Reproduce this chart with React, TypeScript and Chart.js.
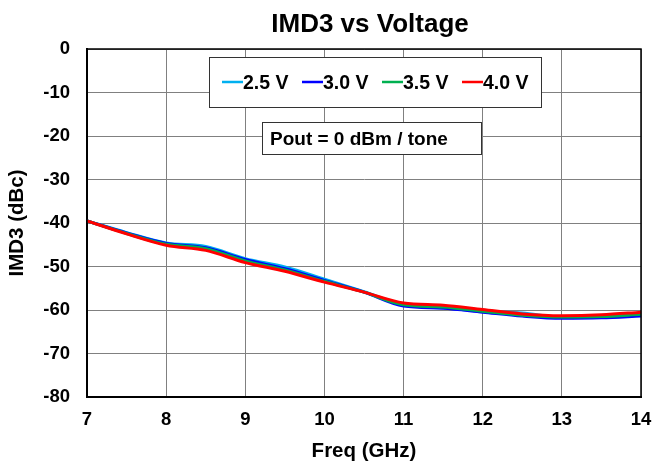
import React, { useEffect, useRef } from "react";
import { Chart, registerables } from "chart.js";
Chart.register(...registerables);

const freqs = [7, 7.5, 8, 8.5, 9, 9.5, 10, 10.5, 11, 11.5, 12, 12.5, 13, 13.5, 14];
const v25 = [-39.5, -42.2, -44.6, -45.4, -48.2, -50.1, -52.9, -55.8, -58.8, -59.5, -60.3, -60.7, -61.7, -61.7, -61.2];
const v30 = [-39.5, -42.3, -44.7, -45.7, -48.4, -50.5, -53.2, -55.9, -59.1, -59.6, -60.5, -61.4, -61.9, -61.8, -61.4];
const v35 = [-39.5, -42.4, -44.9, -45.9, -48.7, -50.8, -53.4, -55.9, -58.8, -59.3, -60.3, -61.2, -61.6, -61.5, -61.0];
const v40 = [-39.5, -42.5, -45.1, -46.3, -49.1, -51.1, -53.6, -55.9, -58.4, -58.9, -59.9, -60.9, -61.3, -61.1, -60.5];
const seriesNames = ["2.5 V", "3.0 V", "3.5 V", "4.0 V"];
const seriesColors = ["#00B0F0", "#0000FF", "#00B050", "#FF0000"];
const titleText = "IMD3 vs Voltage";
const annotationText = "Pout = 0 dBm / tone";

const FONT = "'Liberation Sans', Arial, sans-serif";

const boxPlugin = {
  id: "boxes",
  afterDraw(chart: any) {
    const ctx = chart.ctx;
    const a = chart.chartArea;
    ctx.save();
    // frame
    ctx.strokeStyle = "#000";
    ctx.lineWidth = 1.5;
    ctx.strokeRect(a.left, a.top, a.right - a.left, a.bottom - a.top);
    // title
    ctx.fillStyle = "#000";
    ctx.font = `bold 26px ${FONT}`;
    ctx.textAlign = "center";
    ctx.textBaseline = "alphabetic";
    ctx.fillText(titleText, 370, 32);
    // legend box
    const lx = 209, ly = 57, lw = 332, lh = 50;
    ctx.fillStyle = "#fff";
    ctx.fillRect(lx, ly, lw, lh);
    ctx.lineWidth = 1;
    ctx.strokeStyle = "#333";
    ctx.strokeRect(lx + 0.5, ly + 0.5, lw, lh);
    ctx.font = `bold 19.5px ${FONT}`;
    ctx.textAlign = "left";
    ctx.textBaseline = "alphabetic";
    seriesNames.forEach((n, i) => {
      const x0 = lx + 13 + i * 80;
      ctx.strokeStyle = seriesColors[i];
      ctx.lineWidth = 2.5;
      ctx.beginPath();
      ctx.moveTo(x0, 82);
      ctx.lineTo(x0 + 21, 82);
      ctx.stroke();
      ctx.fillStyle = "#000";
      ctx.fillText(n, x0 + 21, 88.5);
    });
    // annotation box
    const bx = 262, by = 122, bw = 219, bh = 32;
    ctx.fillStyle = "#fff";
    ctx.fillRect(bx, by, bw, bh);
    ctx.strokeStyle = "#333";
    ctx.lineWidth = 1;
    ctx.strokeRect(bx + 0.5, by + 0.5, bw, bh);
    ctx.fillStyle = "#000";
    ctx.font = `bold 19px ${FONT}`;
    ctx.fillText(annotationText, 270, 144.5);
    ctx.restore();
  },
};

export default function App() {
  const ref = useRef<HTMLCanvasElement>(null);
  useEffect(() => {
    document.body.style.margin = "0";
    const data = [v25, v30, v35, v40];
    const chart = new Chart(ref.current!, {
      type: "line",
      data: {
        datasets: seriesNames.map((n, i) => ({
          label: n,
          data: freqs.map((f, j) => ({ x: f, y: data[i][j] })),
          borderColor: seriesColors[i],
          backgroundColor: seriesColors[i],
          borderWidth: 3,
          pointRadius: 0,
          tension: 0.4,
          cubicInterpolationMode: "monotone" as const,
          order: 4 - i,
        })),
      },
      options: {
        animation: false,
        responsive: false,
        layout: { padding: { left: 0, right: 0, top: 49, bottom: 0 } },
        plugins: {
          legend: { display: false },
          tooltip: { enabled: false },
          title: { display: false },
        },
        scales: {
          x: {
            type: "linear",
            min: 7,
            max: 14,
            ticks: { stepSize: 1, color: "#000", font: { family: FONT, size: 18.5, weight: "bold" }, padding: 12 },
            grid: { color: "#808080", lineWidth: 1, drawTicks: false },
            border: { color: "#000", width: 2 },
            title: {
              display: true,
              text: "Freq (GHz)",
              color: "#000",
              font: { family: FONT, size: 20.5, weight: "bold" },
              padding: { top: 0, bottom: 2.5 },
            },
            afterFit: (s: any) => { s.height = 69; s.paddingRight = 12; },
          },
          y: {
            min: -80,
            max: 0,
            ticks: { stepSize: 10, color: "#000", font: { family: FONT, size: 18.5, weight: "bold" }, padding: 17 },
            grid: { color: "#808080", lineWidth: 1, drawTicks: false },
            border: { color: "#000", width: 2 },
            title: {
              display: true,
              text: "IMD3 (dBc)",
              color: "#000",
              font: { family: FONT, size: 20.5, weight: "bold" },
              padding: { top: 5, bottom: 0 },
            },
            afterFit: (s: any) => { s.width = 87; },
          },
        },
      },
      plugins: [boxPlugin],
    });
    return () => chart.destroy();
  }, []);
  return (
    <div style={{ width: 653, height: 466, background: "#fff" }}>
      <canvas ref={ref} width={653} height={466} />
    </div>
  );
}
